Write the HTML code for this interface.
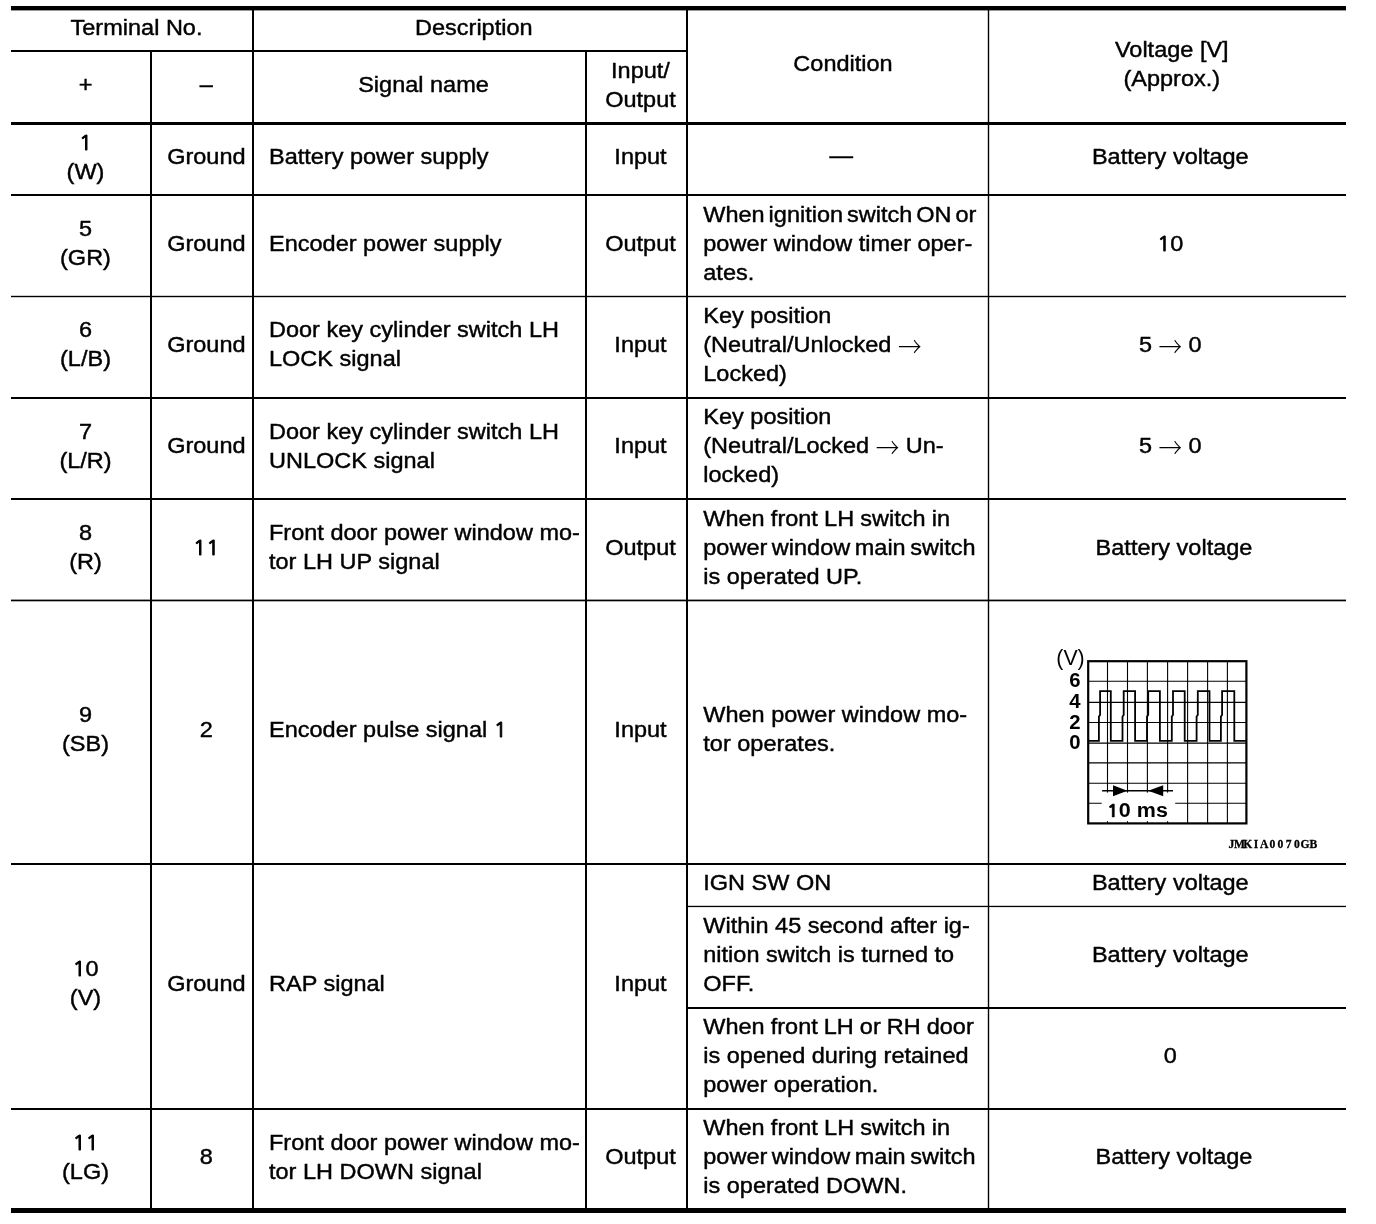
<!DOCTYPE html>
<html lang="en">
<head>
<meta charset="utf-8">
<title>Power window main switch - terminal reference values</title>
<style>
html,body{margin:0;padding:0;background:#fff;}
body{width:1376px;height:1224px;overflow:hidden;}
#sheet{position:relative;width:1376px;height:1224px;background:#fff;color:#000;
  font-family:"Liberation Sans",Arial,Helvetica,sans-serif;font-size:23.5px;line-height:29px;}
#rules{position:absolute;left:0;top:0;}
.c{position:absolute;white-space:nowrap;text-align:center;}
.c.l{text-align:left;}
.c div{height:29px;transform:scale(1,0.91);transform-origin:50% 22.0px;-webkit-text-stroke:0.45px #000;}
.d1{font-family:NanumGothic,"Liberation Sans",sans-serif;font-size:.92em;line-height:0;-webkit-text-stroke:1px #000;}
.ar{font-family:"Noto Serif CJK SC","DejaVu Sans",serif;-webkit-text-stroke:0;line-height:0;display:inline-block;transform:scaleY(1.3);position:relative;top:2.4px;}
#scope{position:absolute;left:1040px;top:640px;}
#scope text{fill:#000;}
</style>
</head>
<body>
<div id="sheet">
<svg id="rules" width="1376" height="1224" viewBox="0 0 1376 1224">
<rect x="11" y="6" width="1335" height="4.4" fill="#000"/>
<rect x="11" y="50" width="676" height="2" fill="#000"/>
<rect x="11" y="122" width="1335" height="3" fill="#000"/>
<rect x="11" y="194" width="1335" height="2" fill="#000"/>
<rect x="11" y="295.8" width="1335" height="1.4" fill="#000"/>
<rect x="11" y="397" width="1335" height="2" fill="#000"/>
<rect x="11" y="498" width="1335" height="2" fill="#000"/>
<rect x="11" y="599.6" width="1335" height="1.7" fill="#000"/>
<rect x="11" y="863" width="1335" height="2" fill="#000"/>
<rect x="687" y="905.8" width="659" height="1.3" fill="#000"/>
<rect x="687" y="1007" width="659" height="2" fill="#000"/>
<rect x="11" y="1108" width="1335" height="2" fill="#000"/>
<rect x="11" y="1208" width="1335" height="5" fill="#000"/>
<rect x="150" y="51" width="2" height="1157" fill="#000"/>
<rect x="252" y="10" width="2" height="1198" fill="#000"/>
<rect x="585" y="51" width="2" height="1157" fill="#000"/>
<rect x="686" y="10" width="2" height="1198" fill="#000"/>
<rect x="987.8" y="10" width="1.4" height="1198" fill="#000"/>
</svg>
<div class="c" style="left:27px;top:12.5px;width:219px"><div>Terminal No.</div></div>
<div class="c" style="left:268.8px;top:12.5px;width:410px"><div>Description</div></div>
<div class="c" style="left:27px;top:70.1px;width:117px"><div>+</div></div>
<div class="c" style="left:167.2px;top:70.1px;width:78px"><div>–</div></div>
<div class="c" style="left:269px;top:70.1px;width:309px"><div>Signal name</div></div>
<div class="c" style="left:602px;top:55.6px;width:77px"><div>Input/</div><div>Output</div></div>
<div class="c" style="left:704px;top:49.4px;width:278px"><div>Condition</div></div>
<div class="c" style="left:1004.3px;top:34.5px;width:335px"><div>Voltage [V]</div><div>(Approx.)</div></div>
<div class="c" style="left:27px;top:127.5px;width:117px"><div><span class="d1">1</span></div><div>(W)</div></div>
<div class="c" style="left:167.2px;top:142px;width:78px"><div>Ground</div></div>
<div class="c l" style="left:269px;top:142px;width:309px"><div>Battery power supply</div></div>
<div class="c" style="left:602px;top:142px;width:77px"><div>Input</div></div>
<div class="c" style="left:27px;top:214px;width:117px"><div>5</div><div>(GR)</div></div>
<div class="c" style="left:167.2px;top:228.5px;width:78px"><div>Ground</div></div>
<div class="c l" style="left:269px;top:228.5px;width:309px"><div>Encoder power supply</div></div>
<div class="c" style="left:602px;top:228.5px;width:77px"><div>Output</div></div>
<div class="c" style="left:27px;top:315px;width:117px"><div>6</div><div>(L/B)</div></div>
<div class="c" style="left:167.2px;top:329.5px;width:78px"><div>Ground</div></div>
<div class="c l" style="left:269px;top:315px;width:309px"><div>Door key cylinder switch LH</div><div>LOCK signal</div></div>
<div class="c" style="left:602px;top:329.5px;width:77px"><div>Input</div></div>
<div class="c" style="left:27px;top:416.5px;width:117px"><div>7</div><div>(L/R)</div></div>
<div class="c" style="left:167.2px;top:431px;width:78px"><div>Ground</div></div>
<div class="c l" style="left:269px;top:416.5px;width:309px"><div>Door key cylinder switch LH</div><div>UNLOCK signal</div></div>
<div class="c" style="left:602px;top:431px;width:77px"><div>Input</div></div>
<div class="c" style="left:27px;top:518px;width:117px"><div>8</div><div>(R)</div></div>
<div class="c" style="left:167.2px;top:532.5px;width:78px"><div><span class="d1">1</span><span class="d1">1</span></div></div>
<div class="c l" style="left:269px;top:518px;width:309px"><div>Front door power window mo-</div><div>tor LH UP signal</div></div>
<div class="c" style="left:602px;top:532.5px;width:77px"><div>Output</div></div>
<div class="c" style="left:27px;top:700px;width:117px"><div>9</div><div>(SB)</div></div>
<div class="c" style="left:167.2px;top:714.5px;width:78px"><div>2</div></div>
<div class="c l" style="left:269px;top:714.5px;width:309px"><div>Encoder pulse signal <span class="d1">1</span></div></div>
<div class="c" style="left:602px;top:714.5px;width:77px"><div>Input</div></div>
<div class="c" style="left:27px;top:953.8px;width:117px"><div><span class="d1">1</span>0</div><div>(V)</div></div>
<div class="c" style="left:167.2px;top:969px;width:78px"><div>Ground</div></div>
<div class="c l" style="left:269px;top:969px;width:309px"><div>RAP signal</div></div>
<div class="c" style="left:602px;top:969px;width:77px"><div>Input</div></div>
<div class="c" style="left:27px;top:1127.7px;width:117px"><div><span class="d1">1</span><span class="d1">1</span></div><div>(LG)</div></div>
<div class="c" style="left:167.2px;top:1142.2px;width:78px"><div>8</div></div>
<div class="c l" style="left:269px;top:1127.7px;width:309px"><div>Front door power window mo-</div><div>tor LH DOWN signal</div></div>
<div class="c" style="left:602px;top:1142.2px;width:77px"><div>Output</div></div>
<div class="c" style="left:702.3px;top:140.5px;width:278px"><div>—</div></div>
<div class="c" style="left:1002.8px;top:142px;width:335px"><div>Battery voltage</div></div>
<div class="c l" style="left:703.3px;top:199.5px;width:278px"><div style="word-spacing:-2.6px">When ignition switch ON or</div><div>power window timer oper-</div><div>ates.</div></div>
<div class="c" style="left:1002.8px;top:228.5px;width:335px"><div><span class="d1">1</span>0</div></div>
<div class="c l" style="left:703.3px;top:300.5px;width:278px"><div>Key position</div><div>(Neutral/Unlocked <span class="ar">→</span></div><div>Locked)</div></div>
<div class="c" style="left:1002.8px;top:329.5px;width:335px"><div>5 <span class="ar">→</span> 0</div></div>
<div class="c l" style="left:703.3px;top:402px;width:278px"><div>Key position</div><div>(Neutral/Locked <span class="ar">→</span> Un-</div><div>locked)</div></div>
<div class="c" style="left:1002.8px;top:431px;width:335px"><div>5 <span class="ar">→</span> 0</div></div>
<div class="c l" style="left:703.3px;top:503.5px;width:278px"><div style="word-spacing:-0.35px">When front LH switch in</div><div style="word-spacing:-2px">power window main switch</div><div>is operated UP.</div></div>
<div class="c" style="left:1006.5px;top:532.5px;width:335px"><div>Battery voltage</div></div>
<div class="c l" style="left:703.3px;top:700px;width:278px"><div>When power window mo-</div><div>tor operates.</div></div>
<div class="c l" style="left:703.3px;top:868px;width:278px"><div>IGN SW ON</div></div>
<div class="c" style="left:1002.8px;top:868px;width:335px"><div>Battery voltage</div></div>
<div class="c l" style="left:703.3px;top:910.5px;width:278px"><div>Within 45 second after ig-</div><div>nition switch is turned to</div><div>OFF.</div></div>
<div class="c" style="left:1002.8px;top:939.5px;width:335px"><div>Battery voltage</div></div>
<div class="c l" style="left:703.3px;top:1012px;width:278px"><div style="word-spacing:-0.5px">When front LH or RH door</div><div>is opened during retained</div><div>power operation.</div></div>
<div class="c" style="left:1002.8px;top:1041px;width:335px"><div>0</div></div>
<div class="c l" style="left:703.3px;top:1113.2px;width:278px"><div style="word-spacing:-0.35px">When front LH switch in</div><div style="word-spacing:-2px">power window main switch</div><div>is operated DOWN.</div></div>
<div class="c" style="left:1006.5px;top:1142.2px;width:335px"><div>Battery voltage</div></div>
<svg id="scope" width="300" height="225" viewBox="0 0 300 225" font-family="'Liberation Sans',Arial,sans-serif">
<g stroke="#000" stroke-width="1.1" fill="none">
<line x1="67.5" y1="21.2" x2="67.5" y2="183.4"/>
<line x1="87.5" y1="21.2" x2="87.5" y2="183.4"/>
<line x1="107.4" y1="21.2" x2="107.4" y2="183.4"/>
<line x1="127.6" y1="21.2" x2="127.6" y2="183.4"/>
<line x1="147.6" y1="21.2" x2="147.6" y2="183.4"/>
<line x1="167.6" y1="21.2" x2="167.6" y2="183.4"/>
<line x1="187.4" y1="21.2" x2="187.4" y2="183.4"/>
<line x1="48.2" y1="41.25" x2="206.4" y2="41.25"/>
<line x1="48.2" y1="62.4" x2="206.4" y2="62.4"/>
<line x1="48.2" y1="82.5" x2="206.4" y2="82.5"/>
<line x1="48.2" y1="103.1" x2="206.4" y2="103.1"/>
<line x1="48.2" y1="122.9" x2="206.4" y2="122.9"/>
<line x1="48.2" y1="143.2" x2="206.4" y2="143.2"/>
<line x1="48.2" y1="163.2" x2="206.4" y2="163.2"/>
</g>
<rect x="48.2" y="21.2" width="158.2" height="162.2" fill="none" stroke="#000" stroke-width="2.2"/>
<path d="M48.7 100.8 L58.9 100.8 L58.9 76.5 L60.1 75 L60.1 51.1 L70.8 51.1 L70.8 100.8 L82.5 100.8 L82.5 76.5 L83.7 75 L83.7 51.1 L95.1 51.1 L95.1 100.8 L107.0 100.8 L107.0 76.5 L108.2 75 L108.2 51.1 L119.9 51.1 L119.9 100.8 L131.8 100.8 L131.8 76.5 L133.0 75 L133.0 51.1 L144.7 51.1 L144.7 100.8 L156.6 100.8 L156.6 76.5 L157.8 75 L157.8 51.1 L169.5 51.1 L169.5 100.8 L180.9 100.8 L180.9 76.5 L182.1 75 L182.1 51.1 L194.3 51.1 L194.3 100.8 L205.9 100.8" fill="none" stroke="#000" stroke-width="1.8" stroke-linejoin="miter"/>
<rect x="61.7" y="152.6" width="73.5" height="28.6" fill="#fff"/>
<line x1="62.1" y1="150.8" x2="133" y2="150.8" stroke="#000" stroke-width="1.6"/>
<path d="M87.4 150.8 L73 145.3 L73 156.3 Z M108.2 150.8 L123.2 145.3 L123.2 156.3 Z" fill="#000"/>
<text transform="translate(66.8 176.7) scale(1 0.91)" font-size="21.5" font-weight="bold" textLength="61.2" lengthAdjust="spacing"><tspan font-family="NanumGothic,'Liberation Sans',sans-serif" font-size="19.8" stroke="#000" stroke-width="0.5">1</tspan>0 ms</text>
<text x="30.5" y="24.8" font-size="21.3" text-anchor="middle">(V)</text>
<text x="35" y="47.2" font-size="20.3" font-weight="bold" text-anchor="middle">6</text>
<text x="35" y="68.2" font-size="20.3" font-weight="bold" text-anchor="middle">4</text>
<text x="35" y="88.5" font-size="20.3" font-weight="bold" text-anchor="middle">2</text>
<text x="35" y="108.5" font-size="20.3" font-weight="bold" text-anchor="middle">0</text>
<text x="191.3 199.5 207.7 215.9 224.1 232.3 240.5 248.7 256.9 265.1 273.3" y="208" font-family="'Liberation Serif','Courier New',serif" font-size="11.6" font-weight="bold" text-anchor="middle" stroke="#000" stroke-width="0.3">JMKIA0070GB</text>
</svg>
</div>
</body>
</html>
